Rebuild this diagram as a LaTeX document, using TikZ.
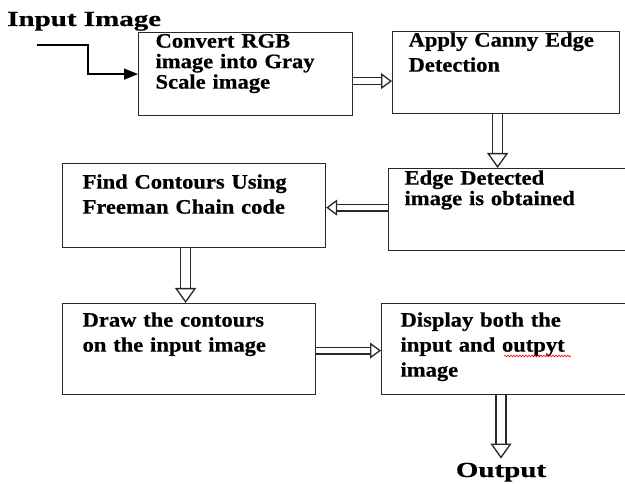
\documentclass[tikz,border=0pt]{standalone}
\usepackage{fontspec}
\usetikzlibrary{arrows.meta}
\usetikzlibrary{decorations.pathmorphing}
\newfontfamily\stagefont[FakeStretch=1.1,BoldFeatures={FakeBold=0.6}]{Liberation Serif}
\newfontfamily\titlefont[FakeStretch=1.35,BoldFeatures={FakeBold=0.6}]{Liberation Serif}
\definecolor{boxline}{RGB}{40,40,40}
\tikzset{
  stage/.style={draw=boxline,line width=1.2pt,anchor=north west,inner ysep=0pt,align=left,
    font=\stagefont\bfseries\fontsize{20.5}{25}\selectfont},
  snug/.style={font=\stagefont\bfseries\fontsize{20.5}{20.5}\selectfont},
  title/.style={font=\titlefont\bfseries\fontsize{21.5}{24}\selectfont,inner sep=0pt},
  feed/.style={draw=black,line width=1.2pt,-{Triangle[length=14pt,width=11pt]}},
  hollow/.style={draw=boxline,line width=1.3pt,double,double distance=5.5pt,-{Triangle[open,length=11pt,width=16pt]}},
  hollow wide/.style={hollow,double distance=8.5pt,-{Triangle[open,length=15pt,width=21pt]}},
  spell/.style={draw=red,line width=0.6pt,decorate,decoration={snake,amplitude=0.9pt,segment length=3pt}}
}

\begin{document}
\begin{tikzpicture}[x=1pt,y=-1pt]
\useasboundingbox (0,0) rectangle (625,484);
\clip (0,0) rectangle (625,484);
\node[title,anchor=base west] (inlabel) at (7,26) {Input Image};
\coordinate (in) at (37,45);
\node[stage,snug,inner xsep=17pt,text width=180pt,text height=15pt,text depth=68pt] (b1) at (138,32) {Convert RGB\\image into Gray\\Scale image};
\node[stage,inner xsep=16pt,text width=195pt,text height=15pt,text depth=67pt] (b2) at (392,31) {Apply Canny Edge\\Detection};
\node[stage,snug,inner xsep=16pt,text width=218pt,text height=16pt,text depth=66pt] (b3) at (388,168) {Edge Detected\\image is obtained};
\node[stage,inner xsep=20pt,text width=223pt,text height=25pt,text depth=59pt] (b4) at (62,163) {Find Contours Using\\Freeman Chain code};
\node[stage,inner xsep=20pt,text width=213pt,text height=23pt,text depth=68pt] (b5) at (62,303) {Draw the contours\\on the input image};
\node[stage,inner xsep=19pt,text width=212pt,text height=23pt,text depth=68pt] (b6) at (381,303) {Display both the\\input and outpyt\\image};
\node[title,anchor=base,inner sep=4pt] (out) at (501,477) {Output};

\draw[feed] (in) -- ++(51,0) |- (b1.west);
\draw[hollow] ([yshift=-7pt]b1.east) -- ([yshift=-7pt]b1.east -| b2.west);
\draw[hollow wide] ([xshift=-8.5pt]b2.south) -- ([xshift=-8.5pt]b2.south |- b3.north);
\draw[hollow] ([yshift=2pt]b3.west) -- ([yshift=2pt]b3.west -| b4.east);
\draw[hollow wide] ([xshift=-8.5pt]b4.south) -- ([xshift=-8.5pt]b4.south |- b5.north);
\draw[hollow] ([yshift=-1.5pt]b5.east) -- ([yshift=-1.5pt]b5.east -| b6.west);
\draw[hollow wide] (out.north |- b6.south) -- (out.north);
% wavy mark under the misspelt word
\draw[spell] ([shift={(123,53)}]b6.north west) -- ([shift={(190,53)}]b6.north west);
\end{tikzpicture}
\end{document}
